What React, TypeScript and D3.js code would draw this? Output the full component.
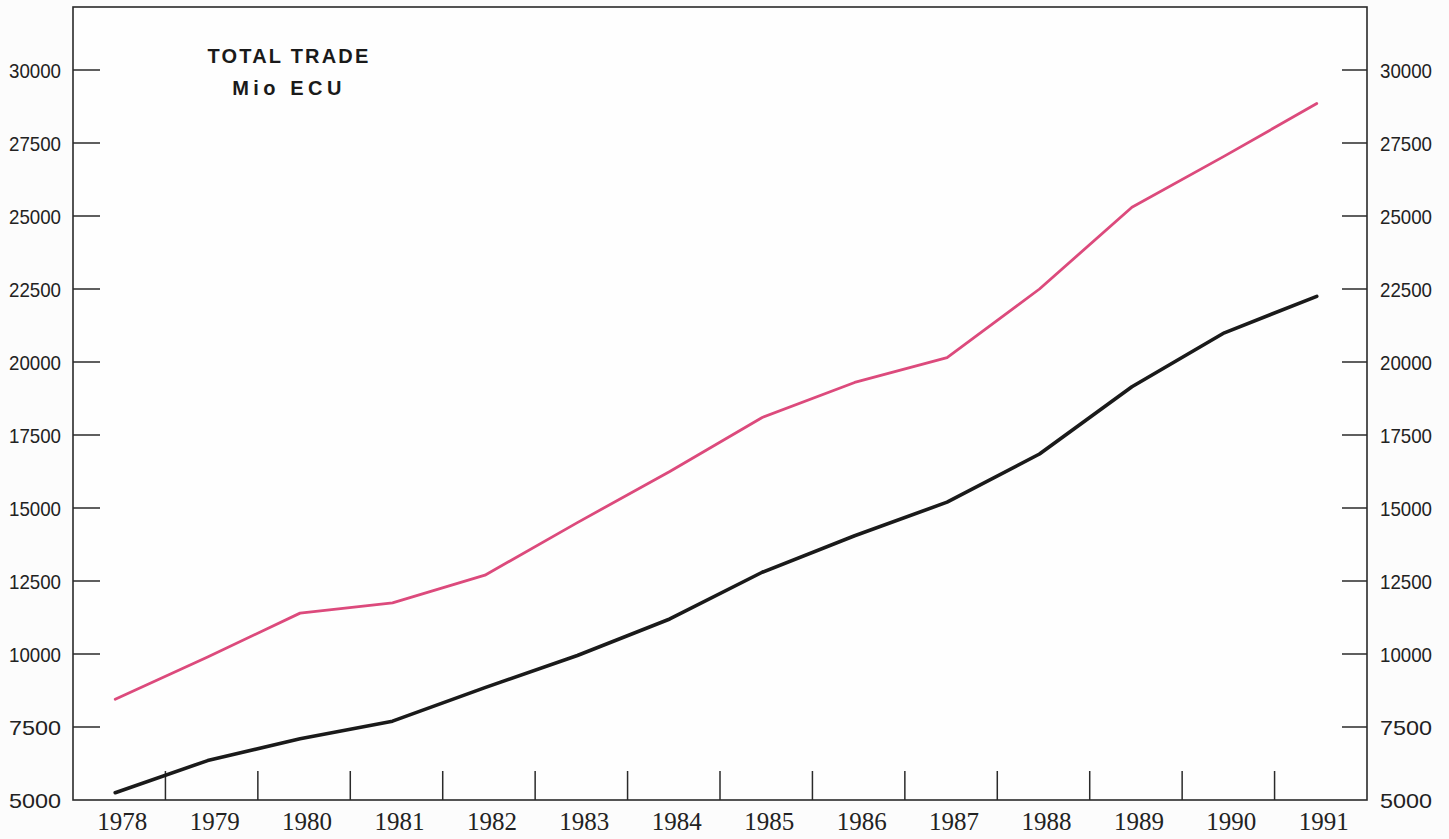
import React from "react";
import * as d3 from "d3";

const years = [1978, 1979, 1980, 1981, 1982, 1983, 1984, 1985, 1986, 1987, 1988, 1989, 1990, 1991];
const pinkSeries = [8450, 9900, 11400, 11750, 12700, 14500, 16250, 18100, 19300, 20150, 22500, 25300, 27050, 28850];
const blackSeries = [5250, 6350, 7100, 7700, 8850, 9950, 11200, 12800, 14050, 15200, 16850, 19150, 21000, 22250];
const yTicks = [5000, 7500, 10000, 12500, 15000, 17500, 20000, 22500, 25000, 27500, 30000];
const titleLines = ["TOTAL TRADE", "Mio ECU"];

const W = 1449;
const H = 839;
const left = 73, right = 1367, top = 7, bottom = 800;

export default function App() {
  const x = d3.scaleLinear().domain([1977.5, 1991.5]).range([left, right]);
  const y = d3.scaleLinear().domain([5000, 30000]).range([bottom, 70]);
  const dataShift = -4;
  const line = d3
    .line<number>()
    .x((_, i) => x(years[i]) + dataShift)
    .y((d) => y(d));
  const boundaries = years.slice(0, -1).map((yr) => yr + 0.5);

  return (
    <svg width={W} height={H} style={{ position: "absolute", left: 0, top: 0, background: "#fcfcfc" }}>
      <rect x={left} y={top} width={right - left} height={bottom - top} fill="#fefefe" stroke="#2a2a2a" strokeWidth={1.6} />
      {yTicks.map((t) => (
        <g key={t}>
          {t !== 5000 && <line x1={left} x2={left + 27} y1={y(t)} y2={y(t)} stroke="#2a2a2a" strokeWidth={1.5} />}
          {t !== 5000 && <line x1={right - 25} x2={right} y1={y(t)} y2={y(t)} stroke="#2a2a2a" strokeWidth={1.5} />}
          <text x={61} y={y(t)} dy="0.36em" textAnchor="end" fontFamily="Liberation Sans, Arial, sans-serif" fontSize={21} fill="#222" textLength={52} lengthAdjust="spacingAndGlyphs">
            {t}
          </text>
          <text x={1380} y={y(t)} dy="0.36em" textAnchor="start" fontFamily="Liberation Sans, Arial, sans-serif" fontSize={21} fill="#222" textLength={52} lengthAdjust="spacingAndGlyphs">
            {t}
          </text>
        </g>
      ))}
      {boundaries.map((b) => (
        <line key={b} x1={x(b)} x2={x(b)} y1={bottom} y2={bottom - 29} stroke="#2a2a2a" strokeWidth={1.5} />
      ))}
      {years.map((yr) => (
        <text key={yr} x={x(yr) + 3} y={830} textAnchor="middle" fontFamily="Liberation Serif, Times New Roman, serif" fontSize={25} fill="#222">
          {yr}
        </text>
      ))}
      <path d={line(pinkSeries) || ""} fill="none" stroke="#dc4a7c" strokeWidth={2.8} strokeLinejoin="round" strokeLinecap="round" />
      <path d={line(blackSeries) || ""} fill="none" stroke="#1a1a1a" strokeWidth={3.6} strokeLinejoin="round" strokeLinecap="round" />
      <text x={289} y={63} textAnchor="middle" fontFamily="Liberation Sans, Arial, sans-serif" fontWeight="bold" fontSize={20} letterSpacing={2.2} fill="#1a1a1a">
        {titleLines[0]}
      </text>
      <text x={289} y={95} textAnchor="middle" fontFamily="Liberation Sans, Arial, sans-serif" fontWeight="bold" fontSize={20} letterSpacing={4.5} fill="#1a1a1a">
        {titleLines[1]}
      </text>
    </svg>
  );
}
